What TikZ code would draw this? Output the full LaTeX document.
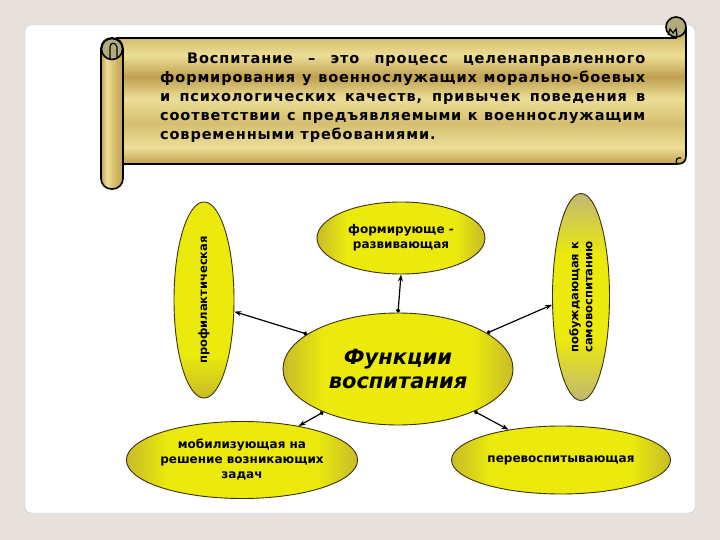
\documentclass[tikz,border=0pt]{standalone}
\usepackage{fontspec}
\setmainfont{DejaVu Sans}
\newfontfamily\scrollfont[LetterSpace=6]{DejaVu Sans}
\newfontfamily\nodefont{DejaVu Sans}
\usetikzlibrary{shapes.geometric,arrows.meta}
\definecolor{bg}{RGB}{230,226,219}
\definecolor{goldD}{RGB}{192,160,80}
\definecolor{goldM}{RGB}{214,190,112}
\definecolor{goldL}{RGB}{236,222,150}
\definecolor{rollC}{RGB}{178,172,125}
\definecolor{yl}{RGB}{236,234,12}
\definecolor{ylD}{RGB}{198,188,40}
\definecolor{ylG}{RGB}{192,184,115}
\definecolor{outl}{RGB}{60,50,10}
\pgfdeclareverticalshading{goldv}{100bp}{color(0bp)=(goldD); color(25bp)=(goldD); color(31bp)=(goldL); color(40bp)=(goldM); color(49bp)=(goldL); color(57bp)=(goldD); color(65bp)=(goldL); color(71bp)=(goldM); color(75bp)=(goldD); color(100bp)=(goldD)}
\pgfdeclarehorizontalshading{goldh}{100bp}{color(0bp)=(goldD); color(25bp)=(goldD); color(38bp)=(goldL); color(55bp)=(goldM); color(75bp)=(goldD); color(100bp)=(goldD)}
\pgfdeclarehorizontalshading{ylh}{100bp}{color(0bp)=(ylD); color(25bp)=(ylD); color(34bp)=(yl); color(66bp)=(yl); color(75bp)=(ylD); color(100bp)=(ylD)}
\pgfdeclareverticalshading{ylvg}{100bp}{color(0bp)=(ylG); color(25bp)=(ylG); color(40bp)=(yl); color(60bp)=(yl); color(75bp)=(ylG); color(100bp)=(ylG)}
\pgfdeclareverticalshading{ylvd}{100bp}{color(0bp)=(ylD); color(25bp)=(ylD); color(36bp)=(yl); color(75bp)=(yl); color(100bp)=(yl)}
\begin{document}
\begin{tikzpicture}[x=1pt,y=-1pt,
  hell/.style={ellipse, draw=outl, line width=0.9pt, inner sep=0pt,
    shading=ylh, font=\nodefont\bfseries\fontsize{12}{15}\selectfont, align=center},
  vell/.style={ellipse, draw=outl, line width=0.9pt, inner sep=0pt,
    shading=ylvg, font=\nodefont\bfseries\fontsize{11.5}{14}\selectfont},
  link/.style={line width=1.2pt, {Circle[length=4pt]}-{Stealth[length=7pt,width=5pt]}},
  scrolledge/.style={line width=1.6pt, draw=black}]
\useasboundingbox (0,0) rectangle (720,540);
\fill[bg] (0,0) rectangle (720,540);
% panel
\fill[gray!22, rounded corners=6pt] (28,28) rectangle (698,516);
\draw[gray!45, fill=white, rounded corners=6pt] (25,25) rectangle (695,513);
% scroll body
\draw[scrolledge, shading=goldv] (117,38) -- (676,38) -- (676,28) -- (686,28) -- (686,155)
   .. controls (686,162) and (683,164) .. (677,164) -- (117,164) -- cycle;
\draw[line width=1.2pt] (677,164) .. controls (675,160) and (677,157) .. (681,158);
% right curl
\draw[scrolledge, fill=rollC] (676,27) circle (10pt);
\draw[line width=1.2pt] (668,35) -- (670,29) -- (673,33) -- (676,29) -- (677,36);
% left roll
\draw[scrolledge, shading=goldh, rounded corners=10.5pt] (101,38) rectangle (123,189);
\draw[scrolledge, fill=rollC] (112,49) circle (10.5pt);
\draw[line width=1.2pt] (110,59) -- (110,47) .. controls (110,42) and (116,42) .. (117,47) -- (117,58);
% scroll text
\node[anchor=north west, inner sep=0pt, text width=485pt, align=justify,
  font=\scrollfont\bfseries\fontsize{14.5}{19}\selectfont] (txt) at (160,52.5)
  {\noindent\hspace*{27pt}Воспитание – это процесс целенаправленного\linebreak
   формирования у военнослужащих морально-боевых\linebreak
   и психологических качеств, привычек поведения в\linebreak
   соответствии с предъявляемыми к военнослужащим\linebreak
   современными требованиями.};
% nodes
\node[hell, minimum width=230pt, minimum height=112pt,
  font=\nodefont\bfseries\itshape\fontsize{21}{24}\selectfont] (c) at (398,369) {Функции\\воспитания};
\node[hell, minimum width=168pt, minimum height=72pt] (t) at (401,238) {формирующе -\\развивающая};
\node[vell, shading=ylvd, minimum width=60pt, minimum height=196pt] (l) at (204,300)
  {\rotatebox{90}{профилактическая}};
\node[vell, minimum width=57pt, minimum height=207pt] (r) at (581,297)
  {\rotatebox{90}{\setbox0\hbox{самовоспитанию}\parbox{\wd0}{побуждающая\hfill к\\\box0}}};
\node[hell, minimum width=230pt, minimum height=77pt] (bl) at (242,460) {мобилизующая на\\решение возникающих\\задач};
\node[hell, minimum width=219pt, minimum height=68pt] (br) at (561,460) {перевоспитывающая};
% links
\draw[link] (c.159.5) -- (l.-21);
\draw[link] (c.90) -- (t.-90);
\draw[link] (c.22.5) -- (r.195);
\draw[link] (c.210) -- (bl.31);
\draw[link] (c.-29) -- (br.150.5);
\end{tikzpicture}
\end{document}
